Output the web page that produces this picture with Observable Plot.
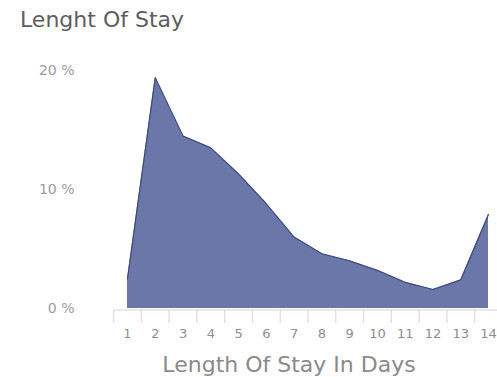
<!DOCTYPE html>
<html>
<head>
<meta charset="utf-8">
<script src="https://cdn.jsdelivr.net/npm/d3@7"></script>
<script src="https://cdn.jsdelivr.net/npm/@observablehq/plot@0.6"></script>
<style>
  body { margin: 0; background: #fff; font-family: "DejaVu Sans", sans-serif; }
  #title { height: 40px; box-sizing: border-box; padding: 7px 0 0 20px; font-size: 22px; line-height: 26px; color: #5e5e5e; }
  svg { display: block; }
</style>
</head>
<body>
<div id="title">Lenght Of Stay</div>
<div id="chart"></div>
<script>
const days = [1, 2, 3, 4, 5, 6, 7, 8, 9, 10, 11, 12, 13, 14];
const shares = [2.5, 19.4, 14.5, 13.5, 11.3, 8.8, 6.0, 4.6, 4.0, 3.2, 2.2, 1.6, 2.4, 7.9];
const yTicks = [0, 10, 20];
const xLabel = "Length Of Stay In Days";

const data = days.map((d, i) => ({day: d, share: shares[i]}));
const bounds = days.map(d => d - 0.5);

const chart = Plot.plot({
  width: 497,
  height: 337,
  marginLeft: 127,
  marginRight: 9,
  marginTop: 30,
  marginBottom: 69,
  style: {fontFamily: "'DejaVu Sans', sans-serif", background: "#fff"},
  x: {type: "linear", domain: [1, 14]},
  y: {type: "linear", domain: [0, 20]},
  marks: [
    Plot.areaY(data, {x: "day", y: "share", fill: "#6a77a8", curve: "linear"}),
    Plot.lineY(data, {x: "day", y: "share", stroke: "#3f4a7b", strokeWidth: 1.2, curve: "linear"}),
    Plot.ruleY([0], {x1: 0.5, x2: 14.6, stroke: "#e2e2e2", strokeWidth: 1.5, dy: 1.5}),
    Plot.ruleX(bounds, {x: d => d, y1: 0, y2: -1.1, stroke: "#e2e2e2", strokeWidth: 1.5, dy: 2}),
    Plot.axisX(days, {tickSize: 0, tickPadding: 20, fontSize: 13, color: "#8e8e8e", label: null}),
    Plot.axisY(yTicks, {tickSize: 0, tickPadding: 53, fontSize: 14, color: "#9c9c9c", tickFormat: d => d + " %", label: null}),
    Plot.text([xLabel], {frameAnchor: "bottom", dy: 63, dx: -19, fontSize: 22, fill: "#8a8a8a"})
  ]
});
document.getElementById("chart").appendChild(chart);
</script>
</body>
</html>
